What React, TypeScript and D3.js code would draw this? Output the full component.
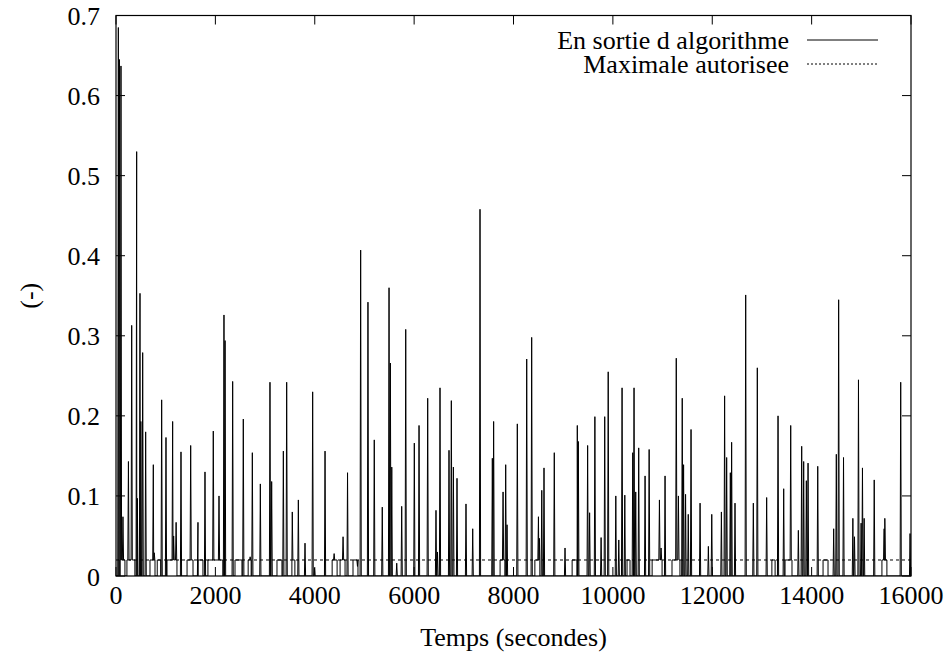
import React from "react";
import * as d3 from "d3";

// Spike events: time (s) and peak value
const spikeTimes = [
  47, 70, 100, 140, 250, 316, 416, 430, 483, 500, 537, 597, 751, 770, 919, 1006, 1140, 1160, 1210, 1308,
  1503, 1650, 1791, 1958, 2073, 2173, 2195, 2348, 2562,
  2700, 2744, 2905, 3099, 3133, 3368, 3435, 3548, 3670, 3804, 3958, 3995, 4207, 4390, 4570, 4660, 4860,
  4924, 5071, 5198, 5359,
  5495, 5522, 5550, 5650, 5750, 5831, 6004, 6099, 6273, 6440, 6470, 6521, 6702, 6749, 6790, 6863, 7044,
  7179, 7326, 7574, 7600, 7790, 7843, 7870, 8077,
  8266, 8366, 8502, 8522, 8569, 8614, 8821, 9037, 9284, 9305, 9492, 9532, 9638, 9763, 9836, 9906, 10059,
  10119, 10185, 10240, 10400, 10426, 10460, 10520, 10648, 10730,
  10937, 10970, 11050, 11276, 11319, 11396, 11423, 11463, 11517, 11573, 11755, 11922, 11990, 12184, 12249,
  12290, 12364, 12390, 12458, 12673, 12827, 12907, 13095, 13324, 13438,
  13579, 13733, 13800, 13840, 13894, 13928, 14123, 14444, 14497, 14544, 14642, 14830, 14863, 14943, 14996,
  15023, 15057, 15260, 15460, 15473, 15793, 15981,
];
const spikeValues = [
  0.685, 0.645, 0.637, 0.074, 0.143, 0.313, 0.53, 0.097, 0.353, 0.193, 0.279, 0.18, 0.139, 0.029, 0.22, 0.173, 0.193, 0.05, 0.067, 0.155,
  0.163, 0.067, 0.13, 0.181, 0.1, 0.326, 0.294, 0.243, 0.196,
  0.024, 0.154, 0.115, 0.242, 0.118, 0.156, 0.242, 0.08, 0.095, 0.041, 0.23, 0.01, 0.156, 0.028, 0.049, 0.129, 0.012,
  0.407, 0.342, 0.17, 0.086,
  0.36, 0.266, 0.136, 0.016, 0.087, 0.308, 0.166, 0.188, 0.222, 0.082, 0.03, 0.235, 0.157, 0.219, 0.136, 0.122, 0.09,
  0.059, 0.458, 0.147, 0.193, 0.105, 0.139, 0.064, 0.19,
  0.271, 0.298, 0.074, 0.047, 0.107, 0.135, 0.154, 0.035, 0.188, 0.168, 0.163, 0.079, 0.199, 0.048, 0.199, 0.255, 0.1,
  0.045, 0.235, 0.101, 0.154, 0.235, 0.105, 0.16, 0.125, 0.158,
  0.095, 0.035, 0.125, 0.272, 0.1, 0.222, 0.139, 0.102, 0.077, 0.183, 0.091, 0.037, 0.077, 0.08, 0.225,
  0.148, 0.129, 0.167, 0.091, 0.351, 0.091, 0.26, 0.098, 0.2, 0.109,
  0.188, 0.057, 0.162, 0.143, 0.119, 0.141, 0.137, 0.059, 0.152, 0.345, 0.148, 0.072, 0.049, 0.245, 0.066,
  0.135, 0.072, 0.12, 0.059, 0.072, 0.242, 0.053,
];

// Low plateaus (level 0.02) between start and end times
const plateauStarts = [80, 220, 684, 830, 1026, 1430, 1650, 1850, 2395, 2660, 3240, 3540, 4350, 4510, 4770, 7730, 8430, 9180, 10285, 10790, 11190, 13200, 13465, 14230, 15415];
const plateauEnds = [180, 380, 785, 900, 1227, 1550, 1750, 2150, 2535, 2720, 3340, 3600, 4450, 4610, 4870, 7830, 8530, 9280, 10345, 10990, 11350, 13265, 13605, 14330, 15515];
const plateauLevel = 0.02;

const limitValue = 0.02;

const xTicks = [0, 2000, 4000, 6000, 8000, 10000, 12000, 14000, 16000];
const yTicks = [0, 0.1, 0.2, 0.3, 0.4, 0.5, 0.6, 0.7];

const legendLabels = ["En sortie d algorithme", "Maximale autorisee"];
const xTitle = "Temps (secondes)";
const yTitle = "(-)";

export default function App() {
  const W = 950, H = 662;
  const L = 116, R = 911, T = 15.5, B = 576;
  const x = d3.scaleLinear().domain([0, 16000]).range([L, R]);
  const y = d3.scaleLinear().domain([0, 0.7]).range([B, T]);

  const inPlateau = (t: number) =>
    plateauStarts.some((s, i) => t > s && t < plateauEnds[i]);
  const base = (t: number) => (inPlateau(t) ? plateauLevel : 0);

  const pts: [number, number][] = [];
  pts.push([0, 0]);
  spikeTimes.forEach((t, i) => {
    pts.push([t - 12, base(t - 12)]);
    pts.push([t, spikeValues[i]]);
    pts.push([t + 12, base(t + 12)]);
  });
  plateauStarts.forEach((s, i) => {
    pts.push([s, 0]);
    pts.push([s + 0.01, plateauLevel]);
    pts.push([plateauEnds[i] - 0.01, plateauLevel]);
    pts.push([plateauEnds[i], 0]);
  });
  pts.push([16000, 0]);
  pts.sort((a, b) => a[0] - b[0]);

  const line = d3
    .line<[number, number]>()
    .x((d) => x(d[0]))
    .y((d) => y(d[1]));

  const FF = "Liberation Serif";
  const FS = 26;
  const tick = 9;

  return (
    <svg
      width={W}
      height={H}
      style={{ position: "absolute", left: 0, top: 0, background: "#fff" }}
    >
      <rect x={0} y={0} width={W} height={H} fill="#fff" />
      <defs>
        <clipPath id="plotclip">
          <rect x={L} y={T} width={R - L} height={B - T} />
        </clipPath>
      </defs>
      <g clipPath="url(#plotclip)">
        <path d={line(pts) || ""} fill="none" stroke="#000" strokeWidth={1} />
        <line
          x1={L}
          x2={R}
          y1={y(limitValue)}
          y2={y(limitValue)}
          stroke="#000"
          strokeWidth={1}
          strokeDasharray="3,3"
        />
      </g>
      <rect x={L} y={T} width={R - L} height={B - T} fill="none" stroke="#000" strokeWidth={1.2} />
      {xTicks.map((t) => (
        <g key={"x" + t}>
          <line x1={x(t)} x2={x(t)} y1={B} y2={B - tick} stroke="#000" />
          <line x1={x(t)} x2={x(t)} y1={T} y2={T + tick} stroke="#000" />
          <text x={x(t)} y={B + 28} textAnchor="middle" fontFamily={FF} fontSize={FS}>
            {t}
          </text>
        </g>
      ))}
      {yTicks.map((t) => (
        <g key={"y" + t}>
          <line x1={L} x2={L + tick} y1={y(t)} y2={y(t)} stroke="#000" />
          <line x1={R} x2={R - tick} y1={y(t)} y2={y(t)} stroke="#000" />
          <text x={100} y={y(t) + 9.5} textAnchor="end" fontFamily={FF} fontSize={FS}>
            {t === 0 ? "0" : t.toFixed(1)}
          </text>
        </g>
      ))}
      <text x={(L + R) / 2} y={646} textAnchor="middle" fontFamily={FF} fontSize={FS}>
        {xTitle}
      </text>
      <text
        transform={`translate(38, ${(T + B) / 2}) rotate(-90)`}
        textAnchor="middle"
        fontFamily={FF}
        fontSize={FS}
      >
        {yTitle}
      </text>
      <text x={789} y={49} textAnchor="end" fontFamily={FF} fontSize={FS}>
        {legendLabels[0]}
      </text>
      <line x1={807} x2={878} y1={40} y2={40} stroke="#000" strokeWidth={1} />
      <text x={789} y={73} textAnchor="end" fontFamily={FF} fontSize={FS}>
        {legendLabels[1]}
      </text>
      <line x1={807} x2={878} y1={64} y2={64} stroke="#000" strokeWidth={1} strokeDasharray="2,2" />
    </svg>
  );
}
